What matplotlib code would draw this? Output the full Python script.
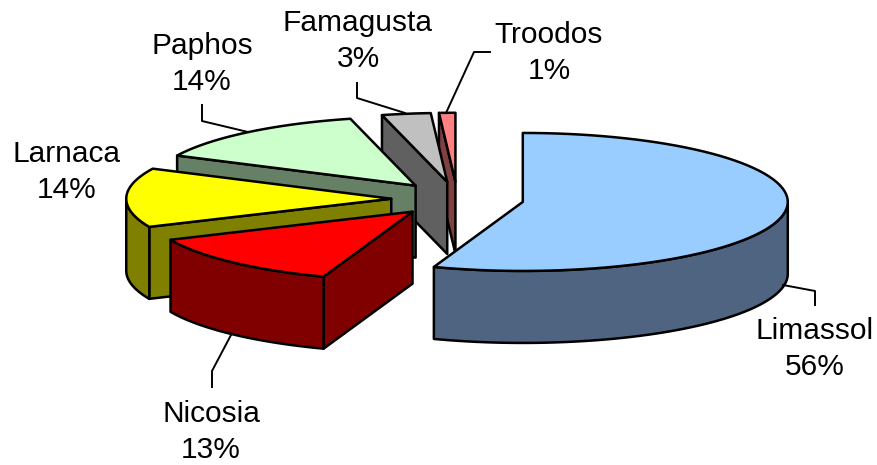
import numpy as np
from matplotlib import pyplot as plt
from matplotlib.patches import Polygon

categories = ['Limassol', 'Nicosia', 'Larnaca', 'Paphos', 'Famagusta', 'Troodos']
shares = [56, 13, 14, 14, 3, 1]
top_colors = ['#99CCFF', '#FF0000', '#FFFF00', '#CCFFCC', '#C0C0C0', '#FF8080']
side_colors = ['#4F6480', '#800000', '#808000', '#668066', '#606060', '#804040']

# label centre and leader line for each slice, in image pixels
label_pos = [(815, 349), (211, 432), (67, 172), (202, 64), (358, 41), (549, 53)]
leaders = [[(783, 285), (815, 291), (815, 305)],
           [(231, 335), (212, 371), (212, 387)],
           [],
           [(248, 132), (202, 121), (202, 105)],
           [(405, 113), (357, 98), (357, 83)],
           [(446, 113), (474, 52), (490, 52)]]

cx, cy = 457.5, 199
rx, ry = 265, 69
depth = 72
explode = 0.25
edge_lw = 1.8

plt.rcParams['font.family'] = ['Liberation Sans', 'DejaVu Sans']

fig = plt.figure(figsize=(8.78, 4.65), dpi=100)
ax = fig.add_axes([0, 0, 1, 1])
ax.set_xlim(0, 878)
ax.set_ylim(465, 0)
ax.axis('off')


def arc(x0, y0, a0, a1):
    # angles clockwise from the top of the pie
    t = np.radians(np.linspace(a0, a1, 80))
    return np.column_stack((x0 + rx * np.sin(t), y0 - ry * np.cos(t)))


def draw_slice(a0, a1, top, side, z):
    mid = np.radians((a0 + a1) / 2)
    x0 = cx + explode * rx * np.sin(mid)
    y0 = cy - explode * ry * np.cos(mid)
    down = np.array([0, depth])
    apex = np.array([x0, y0])
    kw = dict(edgecolor='black', linewidth=edge_lw, joinstyle='round', zorder=z)
    # start cut faces the viewer for angles past 180
    if 180 < a0 < 360:
        p = arc(x0, y0, a0, a0)[0]
        ax.add_patch(Polygon([apex, p, p + down, apex + down], facecolor=side, **kw))
    # outer rim, only the front half of the ellipse shows
    r0, r1 = max(a0, 90), min(a1, 270)
    if r0 < r1:
        rim = arc(x0, y0, r0, r1)
        ax.add_patch(Polygon(np.vstack((rim, rim[::-1] + down)), facecolor=side, **kw))
    pts = np.vstack(([apex], arc(x0, y0, a0, a1)))
    ax.add_patch(Polygon(pts, facecolor=top, **kw))


fracs = np.array(shares) / sum(shares) * 360
ends = np.cumsum(fracs)
starts = ends - fracs

# back slices first, limassol last
for i in range(len(categories) - 1, -1, -1):
    draw_slice(starts[i], ends[i], top_colors[i], side_colors[i], 10 + len(categories) - i)

for i, name in enumerate(categories):
    x, y = label_pos[i]
    ax.text(x, y, '{}\n{}%'.format(name, shares[i]), ha='center', va='center',
            fontsize=21.5, linespacing=1.32, color='black', zorder=30)
    if leaders[i]:
        line = np.array(leaders[i])
        ax.plot(line[:, 0], line[:, 1], color='black', lw=1.4, zorder=25)

fig.savefig('out.png', dpi=100)
